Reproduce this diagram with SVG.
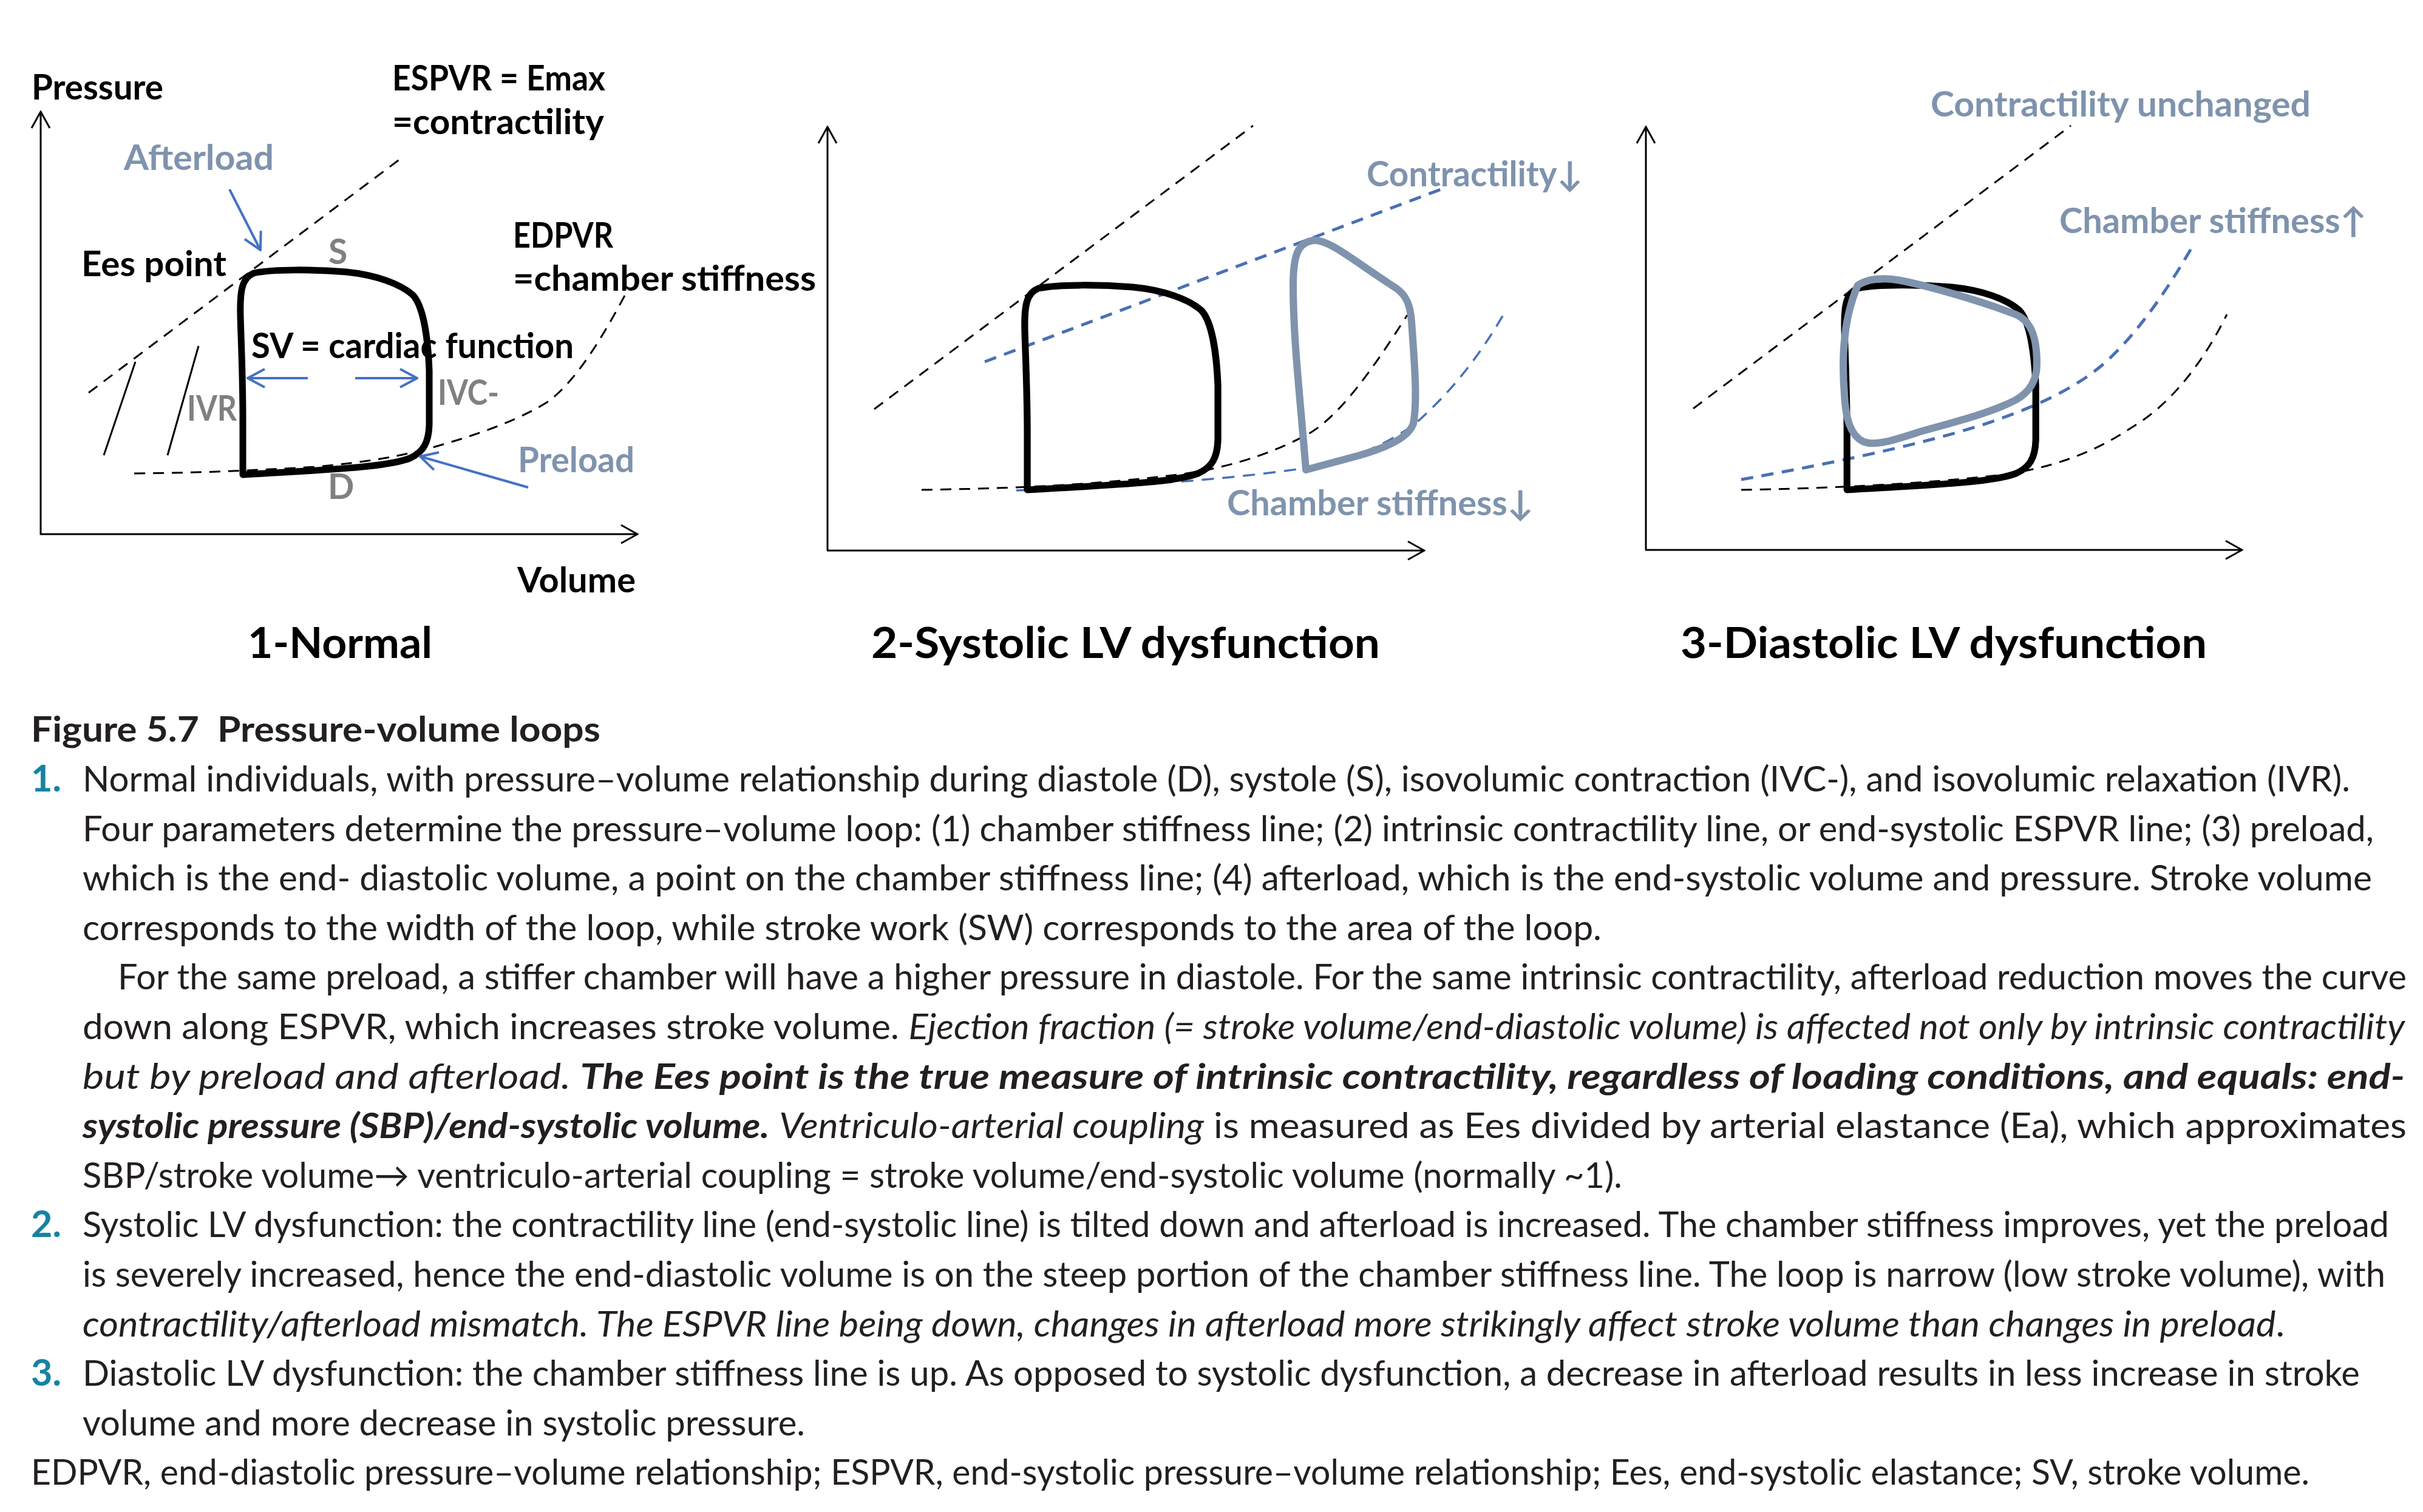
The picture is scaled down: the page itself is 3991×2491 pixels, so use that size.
<svg xmlns="http://www.w3.org/2000/svg" width="3991" height="2491" viewBox="0 0 3991 2491">
<style>
.lbl{font-family:Lato,'Liberation Sans',sans-serif;font-weight:700;font-size:57px}
.k{fill:#000}.gb{fill:#7f93ad}.g{fill:#808080}
.ttl{font-family:Lato,'Liberation Sans',sans-serif;font-weight:700;font-size:71px;fill:#000}
.cap{font-family:Lato,'Liberation Sans',sans-serif;font-weight:700;font-size:57px;fill:#231f20;white-space:pre}
.body{font-family:Lato,'Liberation Sans',sans-serif;font-size:58px;fill:#231f20}
.num{font-family:Lato,'Liberation Sans',sans-serif;font-weight:700;font-size:61px;fill:#1782a4}
.it{font-style:italic}.bi{font-weight:700;font-style:italic}
.ax{stroke:#000;stroke-width:3;fill:none}
.dk{stroke:#000;stroke-width:3;stroke-dasharray:18 13;fill:none}
.db{stroke:#4a70b5;stroke-width:5;stroke-dasharray:20 14;fill:none}
.dbt{stroke:#4a70b5;stroke-width:3.5;stroke-dasharray:20 14;fill:none}
.loopk{stroke:#000;stroke-width:11;fill:none;stroke-linejoin:round}
.loopg{stroke:#7f93ad;stroke-width:12;fill:none;stroke-linejoin:round}
.arr{stroke:#4472c4;stroke-width:4;fill:none}
.thin{stroke:#000;stroke-width:3;fill:none}
</style>
<defs>
<marker id="ma" viewBox="0 0 30 34" refX="28" refY="17" markerWidth="30" markerHeight="34" markerUnits="userSpaceOnUse" orient="auto">
<path d="M1,2 L28,17 L1,32" fill="none" stroke="#000" stroke-width="3"/>
</marker>
<marker id="mb" viewBox="0 0 32 34" refX="30" refY="17" markerWidth="32" markerHeight="34" markerUnits="userSpaceOnUse" orient="auto">
<path d="M2,2 L30,17 L2,32" fill="none" stroke="#4472c4" stroke-width="4"/>
</marker>
<path id="loop" d="M400,782 L400,690 C400,620 397,560 396,520 C395,480 398,458 418,450 C450,443 520,444 570,448 C620,453 660,468 680,486 C698,505 705,560 707,610 L707,700 C706,730 697,745 675,755 C640,768 580,772 400,782 Z"/>
</defs>

<g id="panel1">
<g id="p1-axes">
<path class="ax" d="M67,881 L67,184" marker-end="url(#ma)"/>
<path class="ax" d="M66,880 L1050,880" marker-end="url(#ma)"/>
</g>
<path id="p1-espvr" class="dk" d="M146,647 L663,259"/>
<path id="p1-edpvr" class="dk" d="M221,780 C320,779 400,776 520,769 C600,762 660,752 720,735 C790,715 860,690 905,660 C950,625 990,560 1030,485"/>
<g id="p1-ivr-lines">
<path class="thin" d="M171,750 L223,596"/>
<path class="thin" d="M276,750 L327,570"/>
</g>
<use id="p1-loop" href="#loop" class="loopk"/>
<g id="p1-labels" class="lbl">
<text x="52" y="164" class="k" textLength="217" lengthAdjust="spacingAndGlyphs">Pressure</text>
<text x="646" y="149" class="k" textLength="351" lengthAdjust="spacingAndGlyphs">ESPVR = Emax</text>
<text x="646" y="221" class="k" textLength="349" lengthAdjust="spacingAndGlyphs">=contractility</text>
<text x="204" y="280" class="gb" textLength="247" lengthAdjust="spacingAndGlyphs">Afterload</text>
<text x="134" y="455" class="k" textLength="239" lengthAdjust="spacingAndGlyphs">Ees point</text>
<text x="541" y="435" class="g">S</text>
<text x="845" y="408" class="k" textLength="165" lengthAdjust="spacingAndGlyphs">EDPVR</text>
<text x="845" y="479" class="k" textLength="499" lengthAdjust="spacingAndGlyphs">=chamber stiffness</text>
<text x="414" y="590" class="k" textLength="531" lengthAdjust="spacingAndGlyphs">SV = cardiac function</text>
<text x="308" y="693" class="g" textLength="82" lengthAdjust="spacingAndGlyphs">IVR</text>
<text x="721" y="667" class="g" textLength="101" lengthAdjust="spacingAndGlyphs">IVC-</text>
<text x="853" y="778" class="gb" textLength="192" lengthAdjust="spacingAndGlyphs">Preload</text>
<text x="540" y="822" class="g">D</text>
<text x="852" y="976" class="k" textLength="195" lengthAdjust="spacingAndGlyphs">Volume</text>
</g>
</g>

<g id="panel2">
<g id="p2-axes">
<path class="ax" d="M1363,907 L1363,209" marker-end="url(#ma)"/>
<path class="ax" d="M1362,907 L2346,907" marker-end="url(#ma)"/>
</g>
<path id="p2-espvr" class="dk" d="M1440,674 L2064,207"/>
<path id="p2-espvr-down" class="db" d="M1622,596 L2373,312"/>
<path id="p2-edpvr" class="dk" d="M1518,807 C1650,805 1800,800 1947,781 C2040,768 2110,740 2160,712 C2210,680 2260,610 2318,519"/>
<path id="p2-edpvr-down" class="dbt" d="M1674,808 C1800,803 1990,795 2151,771 C2230,758 2300,725 2340,690 C2400,635 2440,580 2476,519"/>
<use id="p2-loop-normal" href="#loop" class="loopk" transform="translate(1283,25) scale(1.0227,1)"/>
<path id="p2-loop" class="loopg" d="M2151,774 C2142,660 2130,560 2130,470 C2130,420 2138,398 2165,396 C2190,395 2230,430 2300,475 C2318,488 2323,505 2325,530 C2330,600 2335,660 2328,698 C2320,720 2290,735 2240,750 L2151,774 Z"/>
<g id="p2-labels" class="lbl gb">
<text x="2251" y="307" textLength="356" lengthAdjust="spacingAndGlyphs">Contractility↓</text>
<text x="2021" y="849" textLength="505" lengthAdjust="spacingAndGlyphs">Chamber stiffness↓</text>
</g>
</g>

<g id="panel3">
<g id="p3-axes">
<path class="ax" d="M2711,906 L2711,209" marker-end="url(#ma)"/>
<path class="ax" d="M2710,906 L3693,906" marker-end="url(#ma)"/>
</g>
<path id="p3-espvr" class="dk" d="M2789,673 L3411,207"/>
<path id="p3-edpvr" class="dk" d="M2868,807 C3000,805 3160,798 3290,783 C3380,772 3450,745 3510,705 C3570,670 3625,605 3668,518"/>
<path id="p3-edpvr-up" class="db" d="M2868,790 C2980,770 3150,737 3265,700 C3350,672 3420,640 3470,595 C3530,540 3580,460 3613,403"/>
<use id="p3-loop-normal" href="#loop" class="loopk" transform="translate(2637,25) scale(1.013,1)"/>
<path id="p3-loop" class="loopg" d="M3060,470 C3075,460 3100,456 3130,462 C3180,472 3260,495 3320,518 C3348,530 3355,560 3355,600 C3355,625 3345,645 3320,659 C3280,680 3220,695 3160,712 C3120,725 3090,735 3070,728 C3048,718 3040,690 3038,650 C3034,600 3034,530 3060,470 Z"/>
<g id="p3-labels" class="lbl gb">
<text x="3180" y="192" textLength="626" lengthAdjust="spacingAndGlyphs">Contractility unchanged</text>
<text x="3392" y="384" textLength="506" lengthAdjust="spacingAndGlyphs">Chamber stiffness↑</text>
</g>
</g>

<g id="connectors">
<path class="arr" d="M378,312 L429,412" marker-end="url(#mb)"/>
<path class="arr" d="M507,623 L408,623" marker-end="url(#mb)"/>
<path class="arr" d="M585,623 L687,623" marker-end="url(#mb)"/>
<path class="arr" d="M870,803 L692,752" marker-end="url(#mb)"/>
</g>

<g id="titles">
<text class="ttl" x="408" y="1084" textLength="304" lengthAdjust="spacingAndGlyphs">1-Normal</text>
<text class="ttl" x="1435" y="1084" textLength="838" lengthAdjust="spacingAndGlyphs">2-Systolic LV dysfunction</text>
<text class="ttl" x="2768" y="1084" textLength="867" lengthAdjust="spacingAndGlyphs">3-Diastolic LV dysfunction</text>
</g>

<g id="caption">
<text class="cap" x="51" y="1222" textLength="938" lengthAdjust="spacingAndGlyphs">Figure 5.7  Pressure-volume loops</text>
<text class="num" x="51" y="1304">1.</text>
<text class="num" x="51" y="2038">2.</text>
<text class="num" x="51" y="2283">3.</text>
<g class="body">
<text x="136" y="1304" textLength="3735" lengthAdjust="spacingAndGlyphs">Normal individuals, with pressure–volume relationship during diastole (D), systole (S), isovolumic contraction (IVC-), and isovolumic relaxation (IVR).</text>
<text x="136" y="1386" textLength="3774" lengthAdjust="spacingAndGlyphs">Four parameters determine the pressure–volume loop: (1) chamber stiffness line; (2) intrinsic contractility line, or end-systolic ESPVR line; (3) preload,</text>
<text x="136" y="1467" textLength="3771" lengthAdjust="spacingAndGlyphs">which is the end- diastolic volume, a point on the chamber stiffness line; (4) afterload, which is the end-systolic volume and pressure. Stroke volume</text>
<text x="136" y="1549" textLength="2502" lengthAdjust="spacingAndGlyphs">corresponds to the width of the loop, while stroke work (SW) corresponds to the area of the loop.</text>
<text x="194" y="1630" textLength="3770" lengthAdjust="spacingAndGlyphs">For the same preload, a stiffer chamber will have a higher pressure in diastole. For the same intrinsic contractility, afterload reduction moves the curve</text>
<text x="136" y="1712" textLength="3825" lengthAdjust="spacingAndGlyphs">down along ESPVR, which increases stroke volume. <tspan class="it">Ejection fraction (= stroke volume/end-diastolic volume) is affected not only by intrinsic contractility</tspan></text>
<text x="136" y="1794" textLength="3825" lengthAdjust="spacingAndGlyphs"><tspan class="it">but by preload and afterload. </tspan><tspan class="bi">The Ees point is the true measure of intrinsic contractility, regardless of loading conditions, and equals: end-</tspan></text>
<text x="136" y="1875" textLength="3828" lengthAdjust="spacingAndGlyphs"><tspan class="bi">systolic pressure (SBP)/end-systolic volume.</tspan> <tspan class="it">Ventriculo-arterial coupling</tspan> is measured as Ees divided by arterial elastance (Ea), which approximates</text>
<text x="136" y="1957" textLength="2536" lengthAdjust="spacingAndGlyphs">SBP/stroke volume→ ventriculo-arterial coupling = stroke volume/end-systolic volume (normally ~1).</text>
<text x="136" y="2038" textLength="3799" lengthAdjust="spacingAndGlyphs">Systolic LV dysfunction: the contractility line (end-systolic line) is tilted down and afterload is increased. The chamber stiffness improves, yet the preload</text>
<text x="136" y="2120" textLength="3793" lengthAdjust="spacingAndGlyphs">is severely increased, hence the end-diastolic volume is on the steep portion of the chamber stiffness line. The loop is narrow (low stroke volume), with</text>
<text x="136" y="2202" textLength="3627" lengthAdjust="spacingAndGlyphs"><tspan class="it">contractility/afterload mismatch. The ESPVR line being down, changes in afterload more strikingly affect stroke volume than changes in preload</tspan>.</text>
<text x="136" y="2283" textLength="3751" lengthAdjust="spacingAndGlyphs">Diastolic LV dysfunction: the chamber stiffness line is up. As opposed to systolic dysfunction, a decrease in afterload results in less increase in stroke</text>
<text x="136" y="2365" textLength="1190" lengthAdjust="spacingAndGlyphs">volume and more decrease in systolic pressure.</text>
<text x="51" y="2446" textLength="3753" lengthAdjust="spacingAndGlyphs">EDPVR, end-diastolic pressure–volume relationship; ESPVR, end-systolic pressure–volume relationship; Ees, end-systolic elastance; SV, stroke volume.</text>
</g>
</g>
</svg>
